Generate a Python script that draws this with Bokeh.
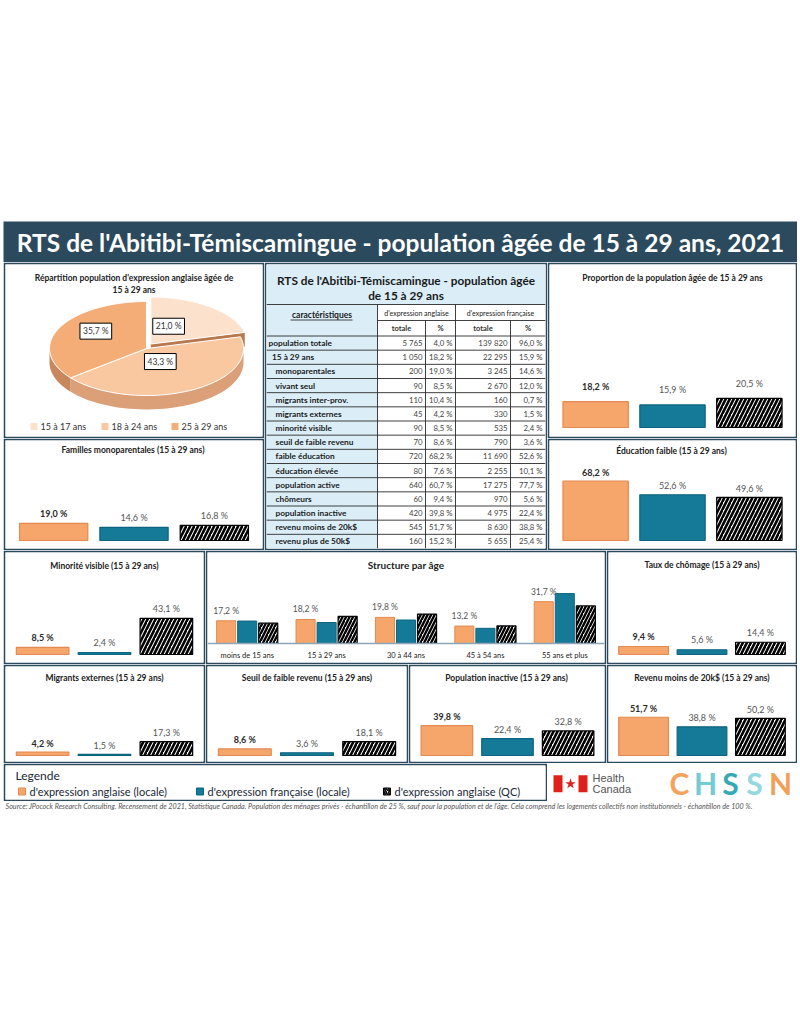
import math
from bokeh.plotting import figure
from bokeh.models import Range1d, FactorRange, Span, ColumnDataSource, Label, Spacer
from bokeh.layouts import row, column
from bokeh.transform import dodge
from bokeh.core.properties import value
from bokeh.embed import file_html
from bokeh.resources import INLINE

# ---------------- data ----------------
main_title = "RTS de l'Abitibi-Témiscamingue - population âgée de 15 à 29 ans, 2021"
series_names = ["d'expression anglaise (locale)", "d'expression française (locale)",
                "d'expression anglaise (QC)"]

pie_title = ["Répartition population d'expression anglaise âgée de", "15 à 29 ans"]
pie_labels = ["15 à 17 ans", "18 à 24 ans", "25 à 29 ans"]
pie_values = [21.0, 43.3, 35.7]

table_title = ["RTS de l'Abitibi-Témiscamingue - population âgée", "de 15 à 29 ans"]
table_head = ["caractéristiques", "d'expression anglaise", "d'expression française", "totale", "%"]
table_labels = ["population totale", "15 à 29 ans", "monoparentales", "vivant seul",
                "migrants inter-prov.", "migrants externes", "minorité visible",
                "seuil de faible revenu", "faible éducation", "éducation élevée",
                "population active", "chômeurs", "population inactive",
                "revenu moins de 20k$", "revenu plus de 50k$"]
table_level = [0, 1, 2, 2, 2, 2, 2, 2, 2, 2, 2, 2, 2, 2, 2]
eng_total = [5765, 1050, 200, 90, 110, 45, 90, 70, 720, 80, 640, 60, 420, 545, 160]
eng_pct = [4.0, 18.2, 19.0, 8.5, 10.4, 4.2, 8.5, 8.6, 68.2, 7.6, 60.7, 9.4, 39.8, 51.7, 15.2]
fr_total = [139820, 22295, 3245, 2670, 160, 330, 535, 790, 11690, 2255, 17275, 970, 4975, 8630, 5655]
fr_pct = [96.0, 15.9, 14.6, 12.0, 0.7, 1.5, 2.4, 3.6, 52.6, 10.1, 77.7, 5.6, 22.4, 38.8, 25.4]

proportion = [18.2, 15.9, 20.5]
familles = [19.0, 14.6, 16.8]
education_faible = [68.2, 52.6, 49.6]
minorite = [8.5, 2.4, 43.1]
chomage = [9.4, 5.6, 14.4]
migrants = [4.2, 1.5, 17.3]
seuil = [8.6, 3.6, 18.1]
inactive = [39.8, 22.4, 32.8]
revenu20 = [51.7, 38.8, 50.2]

age_groups = ["moins de 15 ans", "15 à 29 ans", "30 à 44 ans", "45 à 54 ans", "55 ans et plus"]
struct_eng = [17.2, 18.2, 19.8, 13.2, 31.7]
struct_fr = [17.0, 15.9, 17.8, 11.5, 37.8]
struct_qc = [15.4, 20.5, 22.3, 13.3, 28.5]

legend_title = "Legende"
source_text = ("Source: JPocock Research Consulting. Recensement de 2021, Statistique Canada. "
               "Population des ménages privés - échantillon de 25 %, sauf pour la population et de l'âge. "
               "Cela comprend les logements collectifs non institutionnels - échantillon de 100 %.")

# ---------------- styles ----------------
FONT = value("Lato")
FRAME = "#2c4a5e"
ORANGE, ORANGE_L = "#f7a66b", "#e4894f"
TEAL, TEAL_L = "#157a98", "#0e6480"
LIGHTBLUE = "#dbeef8"
TXT = "#222222"


def pct(v):
    return f"{v:.1f}".replace(".", ",") + " %"


def num(n):
    return f"{n:,}".replace(",", " ")


def base_fig(w, h, xr, yr, border=True, bg="white"):
    p = figure(width=w, height=h, x_range=xr, y_range=yr, toolbar_location=None,
               x_axis_location=None, y_axis_location=None, output_backend="svg",
               min_border=2 if border else 0,
               border_fill_color=FRAME if border else bg,
               background_fill_color=bg, outline_line_color=None)
    p.xgrid.visible = False
    p.ygrid.visible = False
    return p


def bar_panel(w, h, title, vals, k, d, title_dy, lab_dy):
    hf = h - 4
    ytop = (hf - d) / k
    p = base_fig(w, h, Range1d(-0.1, 3.1), Range1d(-d / k, ytop))
    src = ColumnDataSource(dict(
        x=[0.5, 1.5, 2.5], top=vals,
        fill=[ORANGE, TEAL, "white"], line=[ORANGE_L, TEAL_L, "black"],
        hatch=["blank", "blank", "right_diagonal_line"],
        lab=[pct(v) for v in vals], style=["bold", "normal", "normal"],
        tcol=["#2b2b2b", "#555555", "#555555"]))
    p.vbar(x="x", top="top", bottom=0, width=0.85, source=src, fill_color="fill",
           line_color="line", line_width=1.2, hatch_pattern="hatch", hatch_color="black",
           hatch_weight=2.6, hatch_scale=8)
    p.text(x="x", y="top", text="lab", source=src, y_offset=-lab_dy, text_align="center",
           text_baseline="middle", text_font=FONT, text_font_size="9px",
           text_font_style="style", text_color="tcol")
    p.text(x=[1.5], y=[ytop], text=[title], y_offset=title_dy, text_align="center",
           text_baseline="middle", text_font=FONT, text_font_size="8.5px",
           text_font_style="bold", text_color=TXT)
    return p


# ---------------- title bar ----------------
tf = figure(width=794, height=41, x_range=Range1d(0, 794), y_range=Range1d(41, 0),
            toolbar_location=None, x_axis_location=None, y_axis_location=None,
            output_backend="svg", min_border=0, background_fill_color=FRAME,
            border_fill_color=FRAME, outline_line_color=None)
tf.xgrid.visible = False
tf.ygrid.visible = False
tf.text(x=[397], y=[20.5], text=[main_title], text_color="white", text_font=FONT,
        text_font_size="24.5px", text_font_style="bold", text_align="center",
        text_baseline="middle")

# ---------------- pie ----------------
pie = base_fig(261, 176, Range1d(5, 262), Range1d(437, 265))
PIE_TOP = ["#fce1cc", "#f9c8a0", "#f5ad77"]
PIE_SIDE = ["#b9794f", "#dba078", "#c8875c"]
cx, cy, rx, ry, depth, expl = 146, 349, 97, 47, 14, 7
total = sum(pie_values)
angles = []
a = 90.0
for v in pie_values:
    sweep = v / total * 360.0
    angles.append((a, a - sweep))
    a -= sweep
offsets = []
for i, (t0, t1) in enumerate(angles):
    m = math.radians((t0 + t1) / 2)
    e = expl if i == 0 else 0
    offsets.append((e * math.cos(m), -e * math.sin(m) * 0.8))


def P(t, ox=0.0, oy=0.0, dz=0.0):
    r = math.radians(t)
    return cx + ox + rx * math.cos(r), cy + oy - ry * math.sin(r) + dz


wall_xs, wall_ys, wall_c = [], [], []
for i, (t0, t1) in enumerate(angles):
    lo_, hi_ = max(t1, -180.0), min(t0, 0.0)
    if lo_ < hi_:
        n = 48
        ts = [hi_ + (lo_ - hi_) * j / n for j in range(n + 1)]
        ox, oy = offsets[i]
        pts = [P(t, ox, oy) for t in ts] + [P(t, ox, oy, depth) for t in reversed(ts)]
        wall_xs.append([q[0] for q in pts])
        wall_ys.append([q[1] for q in pts])
        wall_c.append(PIE_SIDE[i])
ox, oy = offsets[0]
ex, ey = P(angles[0][1], ox, oy)
wall_xs.append([cx + ox, ex, ex, cx + ox])
wall_ys.append([cy + oy, ey, ey + depth, cy + oy + depth])
wall_c.append(PIE_SIDE[0])
pie.patches(xs=wall_xs, ys=wall_ys, fill_color=wall_c, line_color=None)

top_xs, top_ys = [], []
for i, (t0, t1) in enumerate(angles):
    ox, oy = offsets[i]
    n = 60
    pts = [(cx + ox, cy + oy)] + [P(t0 + (t1 - t0) * j / n, ox, oy) for j in range(n + 1)]
    top_xs.append([q[0] for q in pts])
    top_ys.append([q[1] for q in pts])
pie.patches(xs=top_xs, ys=top_ys, fill_color=PIE_TOP, line_color="white", line_width=1)

lab_fx = [0.30, 0.32, 0.58]
lab_fy = [0.48, 0.31, 0.85]
for i, (t0, t1) in enumerate(angles):
    m = math.radians((t0 + t1) / 2)
    ox, oy = offsets[i]
    lx = cx + ox + lab_fx[i] * rx * math.cos(m)
    ly = cy + oy - lab_fy[i] * ry * math.sin(m)
    pie.add_layout(Label(x=lx, y=ly, text=pct(pie_values[i]), text_align="center",
                         text_baseline="middle", text_font="Lato", text_font_size="8.5px",
                         text_color="#333333", background_fill_color="white",
                         border_line_color="black", border_line_width=1, padding=3))

pie.text(x=[133.5, 133.5], y=[278, 290], text=pie_title, text_align="center",
         text_baseline="middle", text_font=FONT, text_font_size="8.5px",
         text_font_style="bold", text_color=TXT)
leg_x = [30, 101, 171]
pie.quad(left=leg_x, right=[v + 7 for v in leg_x], top=[423.5] * 3, bottom=[430.5] * 3,
         fill_color=PIE_TOP, line_color=None)
pie.text(x=[v + 10 for v in leg_x], y=[427] * 3, text=pie_labels, text_align="left",
         text_baseline="middle", text_font=FONT, text_font_size="9px", text_color="#333333")

# ---------------- table ----------------
tab = base_fig(283, 288, Range1d(266, 545), Range1d(549, 265))
ce = [266, 377, 425, 455, 510, 545]
t_title_bot, h1, h2 = 305, 321, 336.5
nrow = len(table_labels)
rh = (549 - h2) / nrow
row_top = [h2 + i * rh for i in range(nrow)]
row_mid = [t + rh / 2 for t in row_top]

tab.quad(left=[266], right=[545], top=[265], bottom=[t_title_bot], fill_color=LIGHTBLUE,
         line_color=None)
tab.quad(left=[ce[0]] * (nrow + 1), right=[ce[1]] * (nrow + 1),
         top=[t_title_bot] + row_top, bottom=[h2] + [t + rh for t in row_top],
         fill_color=LIGHTBLUE, line_color=None)
gx0, gx1, gy0, gy1 = [], [], [], []
for x in (ce[1], ce[3]):
    gx0.append(x); gx1.append(x); gy0.append(t_title_bot); gy1.append(549)
for x in (ce[2], ce[4]):
    gx0.append(x); gx1.append(x); gy0.append(h1); gy1.append(549)
for y in [t_title_bot, h2] + row_top[1:]:
    gx0.append(266); gx1.append(545); gy0.append(y); gy1.append(y)
gx0.append(ce[1]); gx1.append(545); gy0.append(h1); gy1.append(h1)
tab.segment(x0=gx0, y0=gy0, x1=gx1, y1=gy1, line_color="#2a2a2a", line_width=0.9)

tab.text(x=[405.5, 405.5], y=[280.5, 296], text=table_title, text_align="center",
         text_baseline="middle", text_font=FONT, text_font_size="11.8px",
         text_font_style="bold", text_color="#1a1a1a")
tab.text(x=[(ce[0] + ce[1]) / 2], y=[315], text=[table_head[0]], text_align="center",
         text_baseline="middle", text_font=FONT, text_font_size="8.5px",
         text_font_style="bold", text_color="#1a1a1a")
tab.segment(x0=[290], x1=[352], y0=[320.5], y1=[320.5], line_color="#1a1a1a", line_width=0.8)
tab.text(x=[(ce[1] + ce[3]) / 2, (ce[3] + ce[5]) / 2], y=[313, 313], text=table_head[1:3],
         text_align="center", text_baseline="middle", text_font=FONT,
         text_font_size="7px", text_color="#222222")
tab.text(x=[(ce[i] + ce[i + 1]) / 2 for i in range(1, 5)], y=[329] * 4,
         text=[table_head[3], table_head[4], table_head[3], table_head[4]],
         text_align="center", text_baseline="middle", text_font=FONT,
         text_font_size="7.5px", text_font_style="bold", text_color="#333333")
tsrc = ColumnDataSource(dict(
    y=row_mid, lab=table_labels, lx=[268 + 3.5 * lv for lv in table_level],
    et=[num(v) for v in eng_total], ep=[pct(v) for v in eng_pct],
    ft=[num(v) for v in fr_total], fp=[pct(v) for v in fr_pct]))
tab.text(x="lx", y="y", text="lab", source=tsrc, text_align="left", text_baseline="middle",
         text_font=FONT, text_font_size="8.3px", text_font_style="bold", text_color="#1a1a1a")
for col, xr in (("et", ce[2] - 3), ("ep", ce[3] - 3), ("ft", ce[4] - 3), ("fp", ce[5] - 3)):
    tab.text(x=xr, y="y", text=col, source=tsrc, text_align="right", text_baseline="middle",
             text_font=FONT, text_font_size="7.8px", text_color="#444444")

# ---------------- small bar panels ----------------
prop = bar_panel(250, 176, "Proportion de la population âgée de 15 à 29 ans", proportion,
                 1.42, 9, 13, 15)
fam = bar_panel(261, 112, "Familles monoparentales  (15 à 29 ans)", familles, 0.9, 8, 9, 10)
edu = bar_panel(250, 112, "Éducation faible  (15 à 29 ans)", education_faible, 0.87, 8, 10, 9)
mino = bar_panel(202, 114, "Minorité visible (15 à 29 ans)", minorite, 0.84, 8, 13, 10)
chom = bar_panel(191, 114, "Taux de chômage (15 à 29 ans)", chomage, 0.85, 8, 12, 10)
migr = bar_panel(202, 99, "Migrants externes (15 à 29 ans)", migrants, 0.8, 6, 11, 9)
seui = bar_panel(203, 99, "Seuil de faible revenu (15 à 29 ans)", seuil, 0.77, 6, 11, 9)
inac = bar_panel(198, 99, "Population  inactive (15 à 29 ans)", inactive, 0.75, 6, 11, 9)
reve = bar_panel(191, 99, "Revenu moins de 20k$ (15 à 29 ans)", revenu20, 0.74, 6, 11, 9)

# ---------------- age structure ----------------
SK, SD = 1.32, 19
sp = base_fig(401, 114, FactorRange(*age_groups), Range1d(-SD / SK, (110 - SD) / SK))
ssrc = ColumnDataSource(dict(cat=age_groups, eng=struct_eng, fr=struct_fr, qc=struct_qc,
                             lab=[pct(v) for v in struct_eng], zero=[0] * len(age_groups)))
sp.vbar(x=dodge("cat", -0.265, range=sp.x_range), top="eng", width=0.24, source=ssrc,
        fill_color=ORANGE, line_color=ORANGE_L, line_width=1)
sp.vbar(x=dodge("cat", 0.0, range=sp.x_range), top="fr", width=0.24, source=ssrc,
        fill_color=TEAL, line_color=TEAL_L, line_width=1)
sp.vbar(x=dodge("cat", 0.265, range=sp.x_range), top="qc", width=0.24, source=ssrc,
        fill_color="white", line_color="black", line_width=1.2,
        hatch_pattern="right_diagonal_line", hatch_color="black", hatch_weight=2.4,
        hatch_scale=7)
sp.add_layout(Span(location=0, dimension="width", line_color="#8ea5b7", line_width=1.5))
sp.text(x=dodge("cat", -0.265, range=sp.x_range), y="eng", text="lab", source=ssrc,
        y_offset=-10, text_align="center", text_baseline="middle", text_font=FONT,
        text_font_size="8.5px", text_color="#555555")
sp.text(x="cat", y="zero", text="cat", source=ssrc, y_offset=12, text_align="center",
        text_baseline="middle", text_font=FONT, text_font_size="7.5px", text_color=TXT)
sp.text(x=[age_groups[2]], y=[(110 - SD) / SK], text=["Structure par âge"], y_offset=12,
        text_align="center", text_baseline="middle", text_font=FONT,
        text_font_size="10px", text_font_style="bold", text_color=TXT)

# ---------------- legend ----------------
lg = base_fig(544, 38, Range1d(5, 545), Range1d(800, 766))
lg.text(x=[15], y=[776], text=[legend_title], text_align="left", text_baseline="middle",
        text_font=FONT, text_font_size="12px", text_color="#1b2838")
lgx = [18, 196, 383]
lg.quad(left=lgx, right=[v + 7 for v in lgx], top=[788.5] * 3, bottom=[795.5] * 3,
        fill_color=[ORANGE, TEAL, "white"], line_color=[ORANGE_L, TEAL_L, "black"],
        hatch_pattern=["blank", "blank", "right_diagonal_line"], hatch_color="black",
        hatch_weight=1.6, hatch_scale=4)
lg.text(x=[v + 11 for v in lgx], y=[791.5] * 3, text=series_names, text_align="left",
        text_baseline="middle", text_font=FONT, text_font_size="11px",
        text_color="#1b2838")

# ---------------- logos ----------------
lo = base_fig(250, 38, Range1d(547, 797), Range1d(802, 764), border=False)
lo.quad(left=[553, 578], right=[562, 587], top=[775, 775], bottom=[794, 794],
        fill_color="#e0201b", line_color=None)
lo.scatter(x=[570], y=[784.5], marker="star", size=11, fill_color="#e0201b", line_color=None)
lo.text(x=[592, 592], y=[778.5, 790], text=["Health", "Canada"], text_align="left",
        text_baseline="middle", text_font=value("Liberation Sans"), text_font_size="11px",
        text_color="#555555")
logo_letters = ["C", "H", "S", "S", "N"]
logo_cols = ["#f4a35c", "#73cbd3", "#35a9b7", "#93d8e0", "#f2a057"]
logo_x = [679, 705, 730, 754, 780]
lo.text(x=logo_x, y=[784] * 5, text=logo_letters, text_color=logo_cols, text_align="center",
        text_baseline="middle", text_font=FONT, text_font_size="30px", text_font_style="bold")

# ---------------- footer ----------------
ft = base_fig(794, 14, Range1d(3, 797), Range1d(816, 802), border=False)
ft.text(x=[5], y=[806.5], text=[source_text], text_align="left", text_baseline="middle",
        text_font=FONT, text_font_size="7.2px", text_font_style="italic", text_color="#555555")

# ---------------- layout ----------------
rowA = row(column(pie, fam), tab, column(prop, edu))
row3 = row(mino, sp, chom)
row4 = row(migr, seui, inac, reve)
row5 = row(lg, lo)
root = column(Spacer(width=794, height=221), tf, rowA, row3, row4, row5, ft,
              styles={"margin-left": "3px"})

open("out.html", "w").write(file_html(root, INLINE))
